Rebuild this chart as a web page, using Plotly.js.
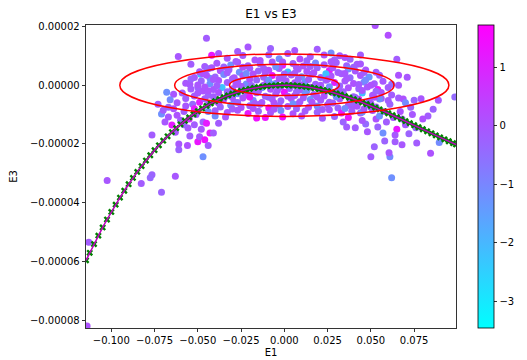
<!DOCTYPE html>
<html>
<head>
<meta charset="utf-8">
<script src="https://cdn.plot.ly/plotly-3.0.1.min.js"></script>
<style>html,body{margin:0;padding:0;background:#fff;}#chart{width:527px;height:360px;}</style>
</head>
<body>
<div id="chart"></div>
<script>
// ---------- scatter points (E1, E3, colour value) ----------
const e1 = [
  // outliers / wings
  -114e-3,-113e-3,-102.4e-3,-82.7e-3,-76.5e-3,-77.5e-3,-63e-3,-71e-3,-45e-3,52.5e-3,
  60e-3,98.5e-3,86e-3,62e-3,84.5e-3,89.5e-3,76.5e-3,50e-3,61e-3,60.5e-3,
  52e-3,68e-3,64e-3,65e-3,57e-3,48e-3,36e-3,34e-3,89e-3,83e-3,
  47e-3,53e-3,54e-3,70e-3,66e-3,68.7e-3,75e-3,79e-3,66e-3,62e-3,
  66e-3,71e-3,65e-3,32e-3,38e-3,42e-3,73e-3,80e-3,72e-3,58e-3,
  -71e-3,-67e-3,-65e-3,-60e-3,-62e-3,-76.5e-3,-61e-3,-61e-3,-55.7e-3,-54.6e-3,
  -50e-3,-49e-3,-46e-3,-43e-3,-41e-3,-47e-3,-70e-3,-67e-3,-64e-3,-58e-3,
  -68e-3,-64e-3,-59e-3,-61.3e-3,-54e-3,-48.4e-3,-43e-3,-42e-3,-54.6e-3,-50e-3,
  -47e-3,-52e-3,-57e-3,-53e-3,-49e-3,-55e-3,-51e-3,-47e-3,-44e-3,-45e-3,
  // right lower cluster
  40e-3,44e-3,50e-3,55e-3,59e-3,63e-3,67e-3,61e-3,56e-3,70e-3,
  45e-3,41e-3,64e-3,58e-3,37e-3,68e-3,74e-3,76e-3,
  // left lower cluster
  -57e-3,-62e-3,-66e-3,-73e-3,-69e-3,-58e-3,-52e-3,-48e-3,-44e-3,-56e-3,
  -38e-3,-40e-3,-63e-3,-52e-3,
  // sparse top of core
  -27e-3,-8e-3,6e-3,19e-3,-38e-3,27e-3,44e-3,-21e-3,
  // core rows
  -33e-3,-24e-3,-17e-3,-9e-3,-3e-3,2e-3,9e-3,15e-3,23e-3,29e-3,35e-3,
  -46e-3,-39e-3,-31e-3,-27e-3,-21e-3,-14e-3,-7e-3,-1e-3,5e-3,11e-3,18e-3,23e-3,30e-3,36e-3,44e-3,
  -49e-3,-44e-3,-37e-3,-32e-3,-26e-3,-20e-3,-15e-3,-9e-3,-3e-3,2e-3,8e-3,13e-3,19e-3,26e-3,31e-3,37e-3,41e-3,47e-3,53e-3,
  -52e-3,-45e-3,-40e-3,-35e-3,-29e-3,-24e-3,-18e-3,-12e-3,-7e-3,-1e-3,4e-3,10e-3,16e-3,21e-3,27e-3,33e-3,38e-3,44e-3,49e-3,55e-3,
  -57e-3,-48e-3,-43e-3,-38e-3,-33e-3,-27e-3,-22e-3,-16e-3,-10e-3,-5e-3,1e-3,6e-3,12e-3,18e-3,24e-3,29e-3,35e-3,40e-3,46e-3,52e-3,57e-3,
  -54e-3,-46e-3,-41e-3,-36e-3,-30e-3,-25e-3,-19e-3,-13e-3,-8e-3,-2e-3,3e-3,9e-3,15e-3,20e-3,26e-3,31e-3,37e-3,43e-3,48e-3,54e-3,60e-3,
  -50e-3,-44e-3,-38e-3,-33e-3,-27e-3,-22e-3,-16e-3,-11e-3,-5e-3,0,6e-3,12e-3,17e-3,23e-3,28e-3,34e-3,40e-3,45e-3,51e-3,56e-3,62e-3,
  -46e-3,-40e-3,-35e-3,-29e-3,-24e-3,-18e-3,-13e-3,-7e-3,-2e-3,4e-3,9e-3,15e-3,21e-3,26e-3,32e-3,38e-3,43e-3,49e-3,55e-3,60e-3,
  -44e-3,-37e-3,-31e-3,-25e-3,-20e-3,-14e-3,-9e-3,-3e-3,2e-3,8e-3,14e-3,19e-3,25e-3,31e-3,37e-3,42e-3,48e-3,53e-3,
  -40e-3,-33e-3,-27e-3,-21e-3,-15e-3,-8e-3,-2e-3,5e-3,12e-3,19e-3,26e-3,33e-3,39e-3,45e-3,51e-3,
  -34e-3,-16e-3,-11e-3,-1e-3,10e-3,22e-3,29e-3,
  -28e-3,-14e-3,-1e-3,13e-3,27e-3,
  -42e-3,-35e-3,-24e-3,-12e-3,-5e-3,7e-3,15e-3,28e-3,40e-3,
  -47e-3,-33e-3,-22e-3,-11e-3,0,6e-3,17e-3,24e-3,35e-3,46e-3,
  -54e-3,-41e-3,-30e-3,-20e-3,-9e-3,-3e-3,8e-3,14e-3,25e-3,36e-3,47e-3,
  -50e-3,-39e-3,-28e-3,-19e-3,-12e-3,-6e-3,4e-3,10e-3,21e-3,32e-3,43e-3,50e-3,
  -44e-3,-33e-3,-23e-3,-15e-3,-4e-3,7e-3,13e-3,24e-3,34e-3,45e-3,53e-3,
  -41e-3,-30e-3,-20e-3,-9e-3,2e-3,11e-3,19e-3,30e-3,41e-3,52e-3,
  -38e-3,-27e-3,-17e-3,-6e-3,5e-3,16e-3,28e-3,39e-3,50e-3,
  -30e-3,-18e-3,-6e-3,7e-3,22e-3,35e-3,46e-3
];
const e3 = [
  -82e-6,-53.5e-6,-32.5e-6,-33.5e-6,-30.5e-6,-31.5e-6,-31e-6,-36.5e-6,16e-6,20.3e-6,
  17e-6,-4e-6,-8.2e-6,-31.5e-6,-23.2e-6,-19.5e-6,-19.7e-6,-24.4e-6,-24.4e-6,-23e-6,
  -21e-6,-20.3e-6,-19.3e-6,-15e-6,-16.3e-6,-15.9e-6,-14.2e-6,-12.5e-6,-5.1e-6,-10.5e-6,
  -13.2e-6,-11.5e-6,-14.2e-6,-13.5e-6,-4.4e-6,-4.7e-6,-5.1e-6,-4.6e-6,0,0.3e-6,
  3.4e-6,2.7e-6,8.8e-6,10e-6,8.8e-6,7.1e-6,-7.5e-6,-11.5e-6,-16.5e-6,-9e-6,
  -9.8e-6,-10.8e-6,-13.6e-6,-11.9e-6,-10.2e-6,-17e-6,-20e-6,-22e-6,-14.6e-6,-17.3e-6,
  -19.3e-6,-17.6e-6,-18.6e-6,-16.3e-6,-16.3e-6,-24.4e-6,-8.5e-6,-7.5e-6,-8e-6,-9e-6,
  -2.4e-6,-3.1e-6,-2.7e-6,9.8e-6,7.1e-6,3.7e-6,2.4e-6,10.2e-6,0.3e-6,-0.7e-6,
  -2e-6,-3.7e-6,-7.1e-6,-6.5e-6,-5.8e-6,-11.5e-6,-10e-6,-12.5e-6,-9e-6,-13e-6,
  -7e-6,-9.5e-6,-7.5e-6,-10.5e-6,-12.5e-6,-11e-6,-9e-6,-6.5e-6,-4.5e-6,-6e-6,
  -12e-6,-14.5e-6,-17e-6,-19e-6,-11e-6,-11.5e-6,-10e-6,-14.5e-6,
  -4.5e-6,-6e-6,-5e-6,-6.5e-6,-12.5e-6,-13.5e-6,-13.5e-6,-15e-6,-20.5e-6,-20.5e-6,
  -13e-6,-10.5e-6,-16e-6,-8e-6,
  11.5e-6,12.5e-6,11.8e-6,12.2e-6,10.8e-6,11e-6,10.3e-6,13e-6,
  9.2e-6,10.1e-6,8.6e-6,10.4e-6,9e-6,10.8e-6,8.9e-6,9.7e-6,10.3e-6,8.7e-6,9.4e-6,
  6.4e-6,7.5e-6,6.9e-6,7.8e-6,6.6e-6,7.3e-6,7.9e-6,6.8e-6,7.4e-6,6.5e-6,7.6e-6,7e-6,7.7e-6,6.6e-6,7.2e-6,
  4.6e-6,5.6e-6,4.9e-6,5.3e-6,4.4e-6,5.8e-6,4.8e-6,5.1e-6,5.7e-6,4.5e-6,5.4e-6,4.7e-6,5.9e-6,5e-6,4.3e-6,5.5e-6,4.8e-6,5.2e-6,4.4e-6,
  2.6e-6,3.4e-6,2.8e-6,3.6e-6,2.5e-6,3.2e-6,3.8e-6,2.7e-6,3.3e-6,2.4e-6,3.5e-6,2.9e-6,3.7e-6,2.6e-6,3.1e-6,3.9e-6,2.5e-6,3.3e-6,2.8e-6,3.4e-6,
  0.7e-6,1.4e-6,0.5e-6,1.6e-6,0.9e-6,1.3e-6,0.4e-6,1.8e-6,1e-6,0.6e-6,1.5e-6,0.8e-6,1.2e-6,0.3e-6,1.7e-6,0.9e-6,1.4e-6,0.6e-6,1.1e-6,0.5e-6,1.3e-6,
  -1.3e-6,-0.6e-6,-1.5e-6,-0.8e-6,-1.2e-6,-0.4e-6,-1.7e-6,-0.9e-6,-1.4e-6,-0.5e-6,-1.1e-6,-1.6e-6,-0.7e-6,-1.3e-6,-0.5e-6,-1.8e-6,-0.9e-6,-1.2e-6,-0.6e-6,-1.5e-6,-0.8e-6,
  -2.7e-6,-3.4e-6,-2.5e-6,-3.6e-6,-2.9e-6,-3.3e-6,-2.6e-6,-3.8e-6,-3e-6,-2.4e-6,-3.5e-6,-2.8e-6,-3.2e-6,-3.7e-6,-2.6e-6,-3.1e-6,-3.9e-6,-2.7e-6,-3.4e-6,-2.5e-6,-3.3e-6,
  -4.6e-6,-5.4e-6,-4.8e-6,-5.7e-6,-4.4e-6,-5.2e-6,-5.9e-6,-4.7e-6,-5.3e-6,-4.5e-6,-5.6e-6,-4.9e-6,-5.1e-6,-5.8e-6,-4.6e-6,-5.3e-6,-4.8e-6,-5.5e-6,-4.7e-6,-5.2e-6,
  -6.6e-6,-7.4e-6,-6.8e-6,-7.6e-6,-7e-6,-6.5e-6,-7.7e-6,-6.9e-6,-7.3e-6,-6.4e-6,-7.5e-6,-7.1e-6,-6.7e-6,-7.8e-6,-6.9e-6,-7.2e-6,-6.6e-6,-7.4e-6,
  -8.7e-6,-9.3e-6,-8.5e-6,-9.6e-6,-8.9e-6,-9.4e-6,-8.6e-6,-9.7e-6,-8.8e-6,-9.2e-6,-8.4e-6,-9.5e-6,-8.9e-6,-9.1e-6,-8.6e-6,
  -10.8e-6,-11.2e-6,-11e-6,-10.8e-6,-10.5e-6,-11.3e-6,-10.7e-6,
  8.1e-6,8.4e-6,7.9e-6,8.3e-6,8e-6,
  5.9e-6,6.2e-6,6.1e-6,5.8e-6,6.3e-6,6e-6,6.4e-6,5.9e-6,6.1e-6,
  3.9e-6,4.2e-6,4e-6,4.3e-6,3.8e-6,4.1e-6,4.2e-6,3.9e-6,4e-6,4.3e-6,
  2.1e-6,1.9e-6,2.2e-6,2e-6,1.8e-6,2.3e-6,2.1e-6,1.9e-6,2e-6,2.2e-6,1.8e-6,
  0.1e-6,-0.2e-6,0.2e-6,-0.1e-6,0,0.3e-6,-0.2e-6,0.1e-6,0,-0.3e-6,0.2e-6,0,
  -1.9e-6,-2.2e-6,-2e-6,-2.1e-6,-1.8e-6,-2.3e-6,-1.9e-6,-2e-6,-2.2e-6,-1.8e-6,-2.1e-6,
  -3.9e-6,-4.2e-6,-4e-6,-4.1e-6,-3.8e-6,-4.3e-6,-4e-6,-3.9e-6,-4.2e-6,-4.1e-6,
  -6.1e-6,-5.9e-6,-6.2e-6,-6e-6,-6.3e-6,-5.8e-6,-6.1e-6,-6e-6,-6.2e-6,
  -8.1e-6,-7.9e-6,-8.2e-6,-8e-6,-8.3e-6,-7.9e-6,-8.1e-6
];
const cval = [
  0.05,-0.15,-0.05,-0.15,-0.3,-0.4,-0.05,-0.3,-0.15,0.05,
  0.15,-0.45,-0.3,-1.2,0.05,-1.1,-0.15,-0.15,-1.1,-0.05,
  -0.3,-0.05,-0.15,1.3,-1.2,-0.05,-0.15,-0.3,-0.05,-0.15,
  -0.45,0.05,-0.3,-0.05,-0.15,0.05,-0.3,-0.05,-0.05,-0.5,
  0.05,-0.05,-0.15,-0.05,-0.3,-0.15,-0.3,0.05,-0.3,-0.15,
  -1.2,-0.05,1.2,-0.15,0.05,-0.15,-0.05,-0.3,-0.05,-0.15,
  1.3,-0.05,1.4,1.2,-0.15,-1.2,-0.15,-0.3,0.05,-0.15,
  -1.2,-0.05,-0.15,-0.05,-0.15,-2.1,-1.0,1.3,-0.05,-0.3,
  0.05,-0.15,-0.05,-0.4,1.1,0.9,-0.05,-0.3,-1.1,1.2,
  -0.15,-0.05,-0.3,-1.2,-0.15,-0.05,0.05,-0.3,-0.15,-1.1,
  -0.05,-0.15,-0.05,-0.3,1.2,-0.15,-0.05,-0.3,
  -0.15,-0.05,-1.1,-0.15,-0.05,-0.3,-0.15,-0.05,-0.15,0.05,
  -0.15,-1.1,-0.05,1.2,
  -0.15,-0.3,-0.05,-0.15,-0.05,-1.1,-0.15,-0.05,
  -0.05,-0.15,0.05,-0.3,-1.1,-0.05,0.15,-0.15,-0.05,-0.3,0.05,
  -0.15,-0.05,-1.2,0.05,-0.15,-0.3,-0.05,1.1,-0.15,0.05,-1.0,-0.05,-0.15,-0.3,-0.05,
  -0.05,-0.4,0.05,-0.15,-1.2,-0.05,-0.3,0.15,-0.15,-2.1,-0.05,0.05,-0.3,1.2,-0.15,-1.1,-0.05,0.05,-0.15,
  -0.15,0.05,-0.3,-1.1,-0.05,-0.15,0.05,-0.3,1.3,-0.05,-0.15,-1.2,-0.05,-0.3,0.05,-0.15,-0.45,-0.05,-1.3,-0.15,
  -0.05,-0.3,-1.2,0.05,-0.15,-0.05,-1.1,-0.3,0.05,-0.15,-0.05,0.15,-1.2,-0.15,-0.3,1.1,-0.05,0.05,-1.0,-0.15,-0.05,
  -0.15,0.05,-0.05,-2.2,-0.3,-0.05,-0.15,-1.2,0.05,-0.05,-0.3,-0.15,0.15,-0.05,-1.1,-0.15,0.05,-0.3,-0.05,1.2,-0.15,
  -0.05,-0.3,0.05,-0.15,-1.2,-0.05,0.05,-0.3,-0.15,1.3,-0.05,-1.1,-0.15,0.05,-0.05,-0.3,-0.15,-2.1,-0.05,0.05,-0.15,
  -0.15,1.2,-0.05,-0.3,0.05,-1.1,-0.15,-0.05,-0.3,0.05,-0.15,-1.2,-0.05,-0.15,0.05,-0.3,1.1,-0.05,-1.1,-0.15,
  -0.05,-0.3,-1.2,0.05,-0.15,-0.05,1.3,-0.3,-0.05,-0.15,0.05,-1.0,-0.05,-0.3,-0.15,0.05,-1.2,-0.05,
  -0.15,0.05,-0.05,1.2,-0.3,-0.05,-1.1,0.05,-0.15,-0.3,-0.05,1.3,-0.15,-1.2,-0.05,
  -0.05,1.4,1.3,1.5,0.05,-0.15,-0.3,
  -0.15,0.05,-0.05,-0.3,-0.05,
  -0.05,-0.3,0.05,-0.15,-1.2,-0.05,-0.15,0.05,-0.3,
  0.05,-0.15,-1.1,-0.05,-0.3,-0.15,0.05,-2.2,-0.05,-0.15,
  -0.3,-0.05,-0.15,0.05,-1.2,-0.05,-0.3,-0.15,0.05,-0.05,-1.1,
  -0.05,-0.15,0.05,-0.3,-0.05,-1.2,-0.15,0.05,-0.05,-0.3,-0.15,0.05,
  0.05,-0.3,-0.05,-0.15,-0.05,-0.3,-1.2,0.05,-0.15,-0.05,-0.3,
  -0.15,-0.05,1.2,-0.3,0.05,-0.15,-0.05,-1.1,-0.3,0.05,
  -0.05,-0.3,-0.15,0.05,-1.2,-0.05,-0.15,-0.3,0.05,
  -0.15,0.05,-0.05,-0.3,-0.15,-1.1,-0.05
];
// colour bar limits
const colorMin = -3.46, colorMax = 1.72;

// ---------- fitted curve ----------
const curveE1 = [
  -0.1146,-0.1125,-0.1100,-0.1075,-0.1050,-0.1025,-0.1000,-0.0975,-0.0950,-0.0925,
  -0.0900,-0.0875,-0.0850,-0.0825,-0.0800,-0.0775,-0.0750,-0.0725,-0.0700,-0.0675,
  -0.0650,-0.0625,-0.0600,-0.0575,-0.0550,-0.0525,-0.0500,-0.0475,-0.0450,-0.0425,
  -0.0400,-0.0375,-0.0350,-0.0325,-0.0300,-0.0275,-0.0250,-0.0225,-0.0200,-0.0175,
  -0.0150,-0.0125,-0.0100,-0.0075,-0.0050,-0.0025,0.0000,0.0025,0.0050,0.0075,
  0.0100,0.0125,0.0150,0.0175,0.0200,0.0225,0.0250,0.0275,0.0300,0.0325,
  0.0350,0.0375,0.0400,0.0425,0.0450,0.0475,0.0500,0.0525,0.0550,0.0575,
  0.0600,0.0625,0.0650,0.0675,0.0700,0.0725,0.0750,0.0775,0.0800,0.0825,
  0.0850,0.0875,0.0900,0.0925,0.0950,0.0975,0.0992
];
const curveE3 = [
  -5.966e-5,-5.708e-5,-5.411e-5,-5.124e-5,-4.845e-5,-4.577e-5,-4.318e-5,-4.069e-5,-3.828e-5,-3.596e-5,
  -3.373e-5,-3.158e-5,-2.953e-5,-2.756e-5,-2.567e-5,-2.386e-5,-2.213e-5,-2.047e-5,-1.890e-5,-1.740e-5,
  -1.597e-5,-1.461e-5,-1.333e-5,-1.212e-5,-1.097e-5,-0.989e-5,-0.887e-5,-0.792e-5,-0.703e-5,-0.620e-5,
  -0.543e-5,-0.472e-5,-0.406e-5,-0.346e-5,-0.292e-5,-0.242e-5,-0.198e-5,-0.158e-5,-0.124e-5,-0.093e-5,
  -0.068e-5,-0.046e-5,-0.029e-5,-0.016e-5,-0.007e-5,-0.002e-5,0,-0.002e-5,-0.009e-5,-0.019e-5,
  -0.034e-5,-0.053e-5,-0.075e-5,-0.101e-5,-0.131e-5,-0.163e-5,-0.199e-5,-0.238e-5,-0.280e-5,-0.325e-5,
  -0.372e-5,-0.421e-5,-0.473e-5,-0.528e-5,-0.584e-5,-0.642e-5,-0.701e-5,-0.763e-5,-0.825e-5,-0.890e-5,
  -0.955e-5,-1.021e-5,-1.088e-5,-1.156e-5,-1.224e-5,-1.293e-5,-1.363e-5,-1.432e-5,-1.501e-5,-1.570e-5,
  -1.639e-5,-1.708e-5,-1.776e-5,-1.843e-5,-1.909e-5,-1.975e-5,-2.019e-5
];

// ---------- confidence ellipses (centre, 1-sigma half axes, multiples) ----------
const ellipseCenter = [0, 0];
const ellipseSigma = [0.0317, 3.55e-6];
const ellipseLevels = [1, 2, 3];

// ---------- axes ----------
const xRange = [-0.11463, 0.0992];
const yRange = [-8.27e-5, 2.05e-5];
const xTicks = [-0.1, -0.075, -0.05, -0.025, 0, 0.025, 0.05, 0.075];
const yTicks = [2e-5, 0, -2e-5, -4e-5, -6e-5, -8e-5];
const cTicks = [-3, -2, -1, 0, 1];

const FONT = 'DejaVu Sans, Liberation Sans, sans-serif';

const traces = [
  {
    type: 'scatter', mode: 'markers', x: e1, y: e3,
    marker: {
      size: 7, color: cval, cmin: colorMin, cmax: colorMax,
      colorscale: [[0, 'rgb(0,255,255)'], [1, 'rgb(255,0,255)']],
      line: {width: 0},
      colorbar: {
        thickness: 16, thicknessmode: 'pixels', len: 1, lenmode: 'fraction',
        x: 1.0605, xanchor: 'left', y: 0.5, yanchor: 'middle',
        xpad: 0, ypad: 0, outlinewidth: 0.8, outlinecolor: '#000',
        tickmode: 'array', tickvals: cTicks, ticks: 'outside', ticklen: 3.5,
        tickwidth: 0.8, tickcolor: '#000',
        tickfont: {family: FONT, size: 10, color: '#000'}
      }
    },
    showlegend: false, hoverinfo: 'skip'
  },
  {
    type: 'scatter', mode: 'markers', x: curveE1, y: curveE3,
    marker: {symbol: 'x', size: 6, color: '#008000', line: {width: 0}},
    showlegend: false, hoverinfo: 'skip'
  },
  {
    type: 'scatter', mode: 'lines', x: curveE1, y: curveE3,
    line: {color: '#bf00bf', width: 1.5},
    showlegend: false, hoverinfo: 'skip'
  }
];

const shapes = ellipseLevels.map(k => ({
  type: 'circle', xref: 'x', yref: 'y', layer: 'above',
  x0: ellipseCenter[0] - k * ellipseSigma[0], x1: ellipseCenter[0] + k * ellipseSigma[0],
  y0: ellipseCenter[1] - k * ellipseSigma[1], y1: ellipseCenter[1] + k * ellipseSigma[1],
  line: {color: '#ff0000', width: 1.5}, fillcolor: 'rgba(0,0,0,0)'
}));

const axisCommon = {
  showgrid: false, zeroline: false, showline: true, mirror: true,
  linecolor: '#000', linewidth: 0.8, ticks: 'outside', ticklen: 3.5,
  tickwidth: 0.8, tickcolor: '#000', tickmode: 'array',
  tickfont: {family: FONT, size: 10, color: '#000'}, automargin: false
};

const layout = {
  width: 527, height: 360,
  margin: {l: 86, r: 61, t: 25, b: 32, pad: 0},
  paper_bgcolor: '#fff', plot_bgcolor: '#fff',
  font: {family: FONT, size: 10, color: '#000'},
  title: {text: 'E1 vs E3', font: {family: FONT, size: 12, color: '#000'},
          x: 0.5, xref: 'paper', xanchor: 'center', y: 1 - 14 / 360, yref: 'container', yanchor: 'middle'},
  xaxis: Object.assign({}, axisCommon, {
    range: xRange, tickvals: xTicks, tickformat: '.3f',
    title: {text: 'E1', font: {family: FONT, size: 10, color: '#000'}, standoff: 3}
  }),
  yaxis: Object.assign({}, axisCommon, {
    range: yRange, tickvals: yTicks, tickformat: '.5f',
    title: {text: 'E3', font: {family: FONT, size: 10, color: '#000'}, standoff: 10}
  }),
  shapes: shapes,
  showlegend: false
};

Plotly.newPlot('chart', traces, layout, {displayModeBar: false, staticPlot: true});
</script>
</body>
</html>
